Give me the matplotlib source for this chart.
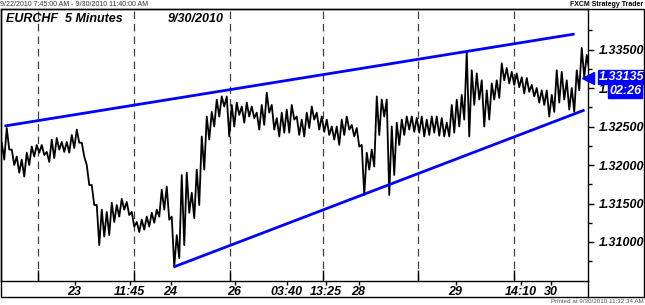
import numpy as np
import matplotlib.pyplot as plt
from matplotlib.patches import Rectangle
from matplotlib.lines import Line2D
from matplotlib.transforms import blended_transform_factory

plt.rcParams['font.family'] = ['Liberation Sans', 'DejaVu Sans']

# EURCHF 5 minute prices, read as high / low per small time slice
highs = [1.3229, 1.3248, 1.3220, 1.3211, 1.3207, 1.3216, 1.3224, 1.3226, 1.3226, 1.3217,
         1.3233, 1.3235, 1.3230, 1.3230, 1.3239, 1.3246, 1.3229, 1.3200, 1.3174, 1.3148,
         1.3142, 1.3139, 1.3151, 1.3148, 1.3156, 1.3152, 1.3139, 1.3126, 1.3129, 1.3133,
         1.3138, 1.3142, 1.3168, 1.3172, 1.3133, 1.3109, 1.3187, 1.3190, 1.3164, 1.3194,
         1.3237, 1.3263, 1.3269, 1.3285, 1.3289, 1.3289, 1.3278, 1.3281, 1.3276, 1.3281,
         1.3276, 1.3268, 1.3278, 1.3294, 1.3278, 1.3261, 1.3268, 1.3272, 1.3278, 1.3263,
         1.3259, 1.3268, 1.3276, 1.3268, 1.3263, 1.3259, 1.3250, 1.3250, 1.3259, 1.3263,
         1.3252, 1.3248, 1.3226, 1.3216, 1.3220, 1.3289, 1.3285, 1.3285, 1.3250, 1.3255,
         1.3259, 1.3263, 1.3263, 1.3261, 1.3263, 1.3259, 1.3263, 1.3263, 1.3261, 1.3255,
         1.3278, 1.3285, 1.3291, 1.3347, 1.3323, 1.3319, 1.3310, 1.3297, 1.3306, 1.3310,
         1.3332, 1.3326, 1.3321, 1.3319, 1.3314, 1.3313, 1.3304, 1.3300, 1.3297, 1.3297,
         1.3291, 1.3323, 1.3321, 1.3310, 1.3300, 1.3323, 1.3352, 1.3343]
lows = [1.3207, 1.3220, 1.3200, 1.3190, 1.3185, 1.3200, 1.3211, 1.3216, 1.3213, 1.3204,
        1.3209, 1.3220, 1.3217, 1.3216, 1.3222, 1.3229, 1.3211, 1.3174, 1.3148, 1.3096,
        1.3107, 1.3109, 1.3126, 1.3133, 1.3142, 1.3135, 1.3120, 1.3113, 1.3116, 1.3120,
        1.3125, 1.3133, 1.3142, 1.3129, 1.3068, 1.3079, 1.3096, 1.3138, 1.3131, 1.3148,
        1.3194, 1.3233, 1.3250, 1.3263, 1.3276, 1.3237, 1.3250, 1.3265, 1.3255, 1.3263,
        1.3261, 1.3246, 1.3252, 1.3268, 1.3246, 1.3237, 1.3242, 1.3242, 1.3259, 1.3239,
        1.3237, 1.3248, 1.3259, 1.3246, 1.3243, 1.3239, 1.3233, 1.3226, 1.3239, 1.3246,
        1.3237, 1.3224, 1.3161, 1.3194, 1.3198, 1.3239, 1.3263, 1.3161, 1.3187, 1.3226,
        1.3239, 1.3246, 1.3243, 1.3242, 1.3237, 1.3239, 1.3242, 1.3238, 1.3237, 1.3237,
        1.3242, 1.3250, 1.3259, 1.3237, 1.3278, 1.3285, 1.3250, 1.3259, 1.3285, 1.3287,
        1.3310, 1.3306, 1.3304, 1.3301, 1.3293, 1.3295, 1.3289, 1.3281, 1.3278, 1.3263,
        1.3269, 1.3281, 1.3285, 1.3272, 1.3269, 1.3297, 1.3314, 1.3323]
last_price = 1.33135
last_time = '02:26'

# trend channel end points (slice index, price)
upper_x = [0.8, 114.8]
upper_y = [1.32506, 1.33701]
lower_x = [34.6, 116.8]
lower_y = [1.30675, 1.32714]

price_ticks = [1.310, 1.315, 1.320, 1.325, 1.330, 1.335]
price_minor = [1.3075, 1.3125, 1.3175, 1.3225, 1.3275, 1.3325, 1.3375]
grid_pos = [7.4, 26.6, 45.8, 64.4, 83.4, 102.6]
label_pos = [14.8, 25.8, 34.0, 46.8, 57.2, 65.0, 71.6, 91.0, 104.0, 110.0]
label_text = ['23', '11:45', '24', '26', '03:40', '13:25', '28', '29', '14:10', '30']

W, H = 645, 305
fig = plt.figure(figsize=(W / 100, H / 100), dpi=100)
ax = fig.add_axes([0.5 / W, 1 - 281 / H, 587.5 / W, 272 / H])

n = len(highs)
idx = np.arange(n)
xs = np.column_stack([idx + 0.25, idx + 0.75]).ravel()
ys = np.column_stack([highs, lows]).ravel()

ax.set_xlim(0, 117.5)
ax.set_ylim(1.304935, 1.34026)

ax.vlines(grid_pos, 1.304935, 1.34026, colors='#404040', linestyles=(0, (6, 4)), lw=0.9, zorder=1)
ax.plot(xs, ys, color='black', lw=1.3, zorder=2)
ax.plot(upper_x, upper_y, color='#0000ff', lw=2, solid_capstyle='butt', zorder=3)
ax.plot(lower_x, lower_y, color='#0000ff', lw=2, solid_capstyle='butt', zorder=3)

tickfont = dict(size=9, weight='bold', style='italic')
ax.yaxis.tick_right()
ax.set_yticks(price_ticks)
ax.set_yticks(price_minor, minor=True)
ax.set_yticklabels(['%.5f' % p for p in price_ticks], **tickfont)
ax.tick_params(axis='y', which='major', direction='out', length=4, width=1, pad=4)
ax.tick_params(axis='y', which='minor', direction='out', length=3, width=1)

ax.set_xticks(grid_pos)
ax.set_xticklabels([])
ax.set_xticks(label_pos, minor=True)
ax.set_xticklabels(label_text, minor=True, **tickfont)
ax.tick_params(axis='x', which='major', direction='in', length=8, width=1)
ax.tick_params(axis='x', which='minor', direction='out', length=3, width=1, pad=0.5)

for s in ax.spines.values():
    s.set_linewidth(1)

# outer frame and right price band
fig.add_artist(Rectangle((0.5 / W, 1 - 297 / H), 643.5 / W, 288 / H, transform=fig.transFigure,
                         fill=False, lw=1, ec='black'))
fig.add_artist(Line2D([588 / W, 588 / W], [1 - 297 / H, 1 - 281 / H], transform=fig.transFigure,
                      color='black', lw=1))

# titles
ax.text(5 / 587.5, 1 - 10 / 272, 'EURCHF  5 Minutes', transform=ax.transAxes, ha='left', va='center',
        fontsize=9, weight='bold', style='italic')
ax.text(167 / 587.5, 1 - 10 / 272, '9/30/2010', transform=ax.transAxes, ha='left', va='center',
        fontsize=9, weight='bold', style='italic')
fig.text(0.5 / W, 1 - 4.5 / H, '9/22/2010 7:45:00 AM - 9/30/2010 11:40:00 AM', ha='left', va='center',
         fontsize=5, color='#333333')
fig.text(643 / W, 1 - 4.5 / H, 'FXCM Strategy Trader', ha='right', va='center',
         fontsize=5, weight='bold', color='black')
fig.text(644 / W, 1 - 301.5 / H, 'Printed at 9/30/2010 11:32:34 AM', ha='right', va='center',
         fontsize=4.5, color='#555555')

# current price marker
tr = blended_transform_factory(ax.transAxes, ax.transData)
ax.plot([1.0], [last_price], marker='<', ms=9, color='#0000ff', transform=tr, clip_on=False, zorder=5)
ax.annotate('%.5f' % last_price, xy=(1.0, last_price), xycoords=tr, xytext=(8, 0.5),
            textcoords='offset points', ha='left', va='center', color='white', annotation_clip=False,
            bbox=dict(boxstyle='square,pad=0.08', fc='#0000ff', ec='#0000ff'), zorder=6, **tickfont)
ax.annotate(last_time, xy=(1.0, last_price), xycoords=tr, xytext=(38.5, -9.5),
            textcoords='offset points', ha='right', va='center', color='white', annotation_clip=False,
            bbox=dict(boxstyle='square,pad=0.08', fc='#0000ff', ec='#0000ff'), zorder=6, **tickfont)

fig.savefig('out.png', dpi=100)
